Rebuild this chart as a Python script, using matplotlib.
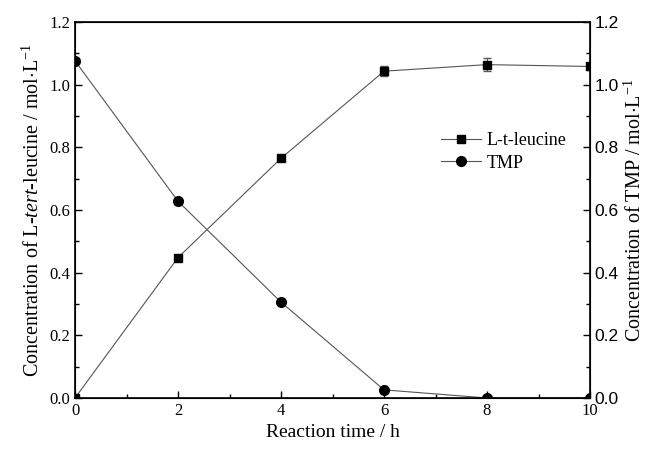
import matplotlib
matplotlib.use("Agg")
import matplotlib.pyplot as plt
from matplotlib.ticker import MultipleLocator, FormatStrFormatter
from matplotlib.lines import Line2D

time_h = [0, 2, 4, 6, 8, 10]
leucine = [0.0, 0.448, 0.765, 1.043, 1.064, 1.058]
leucine_err = [0.0, 0.006, 0.010, 0.015, 0.020, 0.012]
tmp = [1.076, 0.628, 0.306, 0.026, 0.0, 0.0]
tmp_err = [0.0, 0.006, 0.005, 0.005, 0.0, 0.0]
y_ticks = [0.0, 0.2, 0.4, 0.6, 0.8, 1.0, 1.2]

plt.rcParams['font.family'] = ['Liberation Serif', 'DejaVu Serif']
plt.rcParams['mathtext.fontset'] = 'custom'
plt.rcParams['mathtext.rm'] = 'Liberation Serif'
plt.rcParams['mathtext.it'] = 'Liberation Serif:italic'

fig = plt.figure(figsize=(6.51, 4.53), dpi=100)
ax = fig.add_axes([75/651, 55/453, 515/651, 376/453])

line_c = '#555555'
ax.errorbar(time_h, leucine, yerr=leucine_err, color=line_c, lw=0.8,
            marker='s', ms=6, mfc='black', mec='black', ecolor=line_c,
            elinewidth=0.8, capsize=3)
ax.errorbar(time_h, tmp, yerr=tmp_err, color=line_c, lw=0.8,
            marker='o', ms=7, mfc='black', mec='black', ecolor=line_c,
            elinewidth=0.8, capsize=3)

ax.set_xlim(0, 10)
ax.set_ylim(0, 1.2)
ax.xaxis.set_major_locator(MultipleLocator(2))
ax.xaxis.set_minor_locator(MultipleLocator(1))
ax.yaxis.set_major_locator(MultipleLocator(0.2))
ax.yaxis.set_minor_locator(MultipleLocator(0.1))
ax.yaxis.set_major_formatter(FormatStrFormatter('%.1f'))
ax.tick_params(which='both', direction='in', top=False, right=False, labelsize=12)
ax.tick_params(which='major', length=5, width=1)
ax.tick_params(which='minor', length=3, width=1)
for s in ax.spines.values():
    s.set_linewidth(1.2)

ax.set_xlabel('Reaction time / h', fontsize=14)
ax.set_ylabel(r'Concentration of L-$\it{tert}$-leucine / mol$\cdot$L$^{-1}$', fontsize=14.5)

ax2 = ax.twinx()
ax2.set_ylim(0, 1.2)
ax2.set_yticks(y_ticks)
ax2.set_yticklabels([f'{v:.1f}' for v in y_ticks], fontfamily='Liberation Sans', fontsize=12.5)
ax2.yaxis.set_minor_locator(MultipleLocator(0.1))
ax2.tick_params(which='both', direction='in')
ax2.tick_params(which='major', length=5, width=1)
ax2.tick_params(which='minor', length=3, width=1)
ax2.set_ylabel(r'Concentration of TMP / mol$\cdot$L$^{-1}$', fontsize=14.5)

handles = [
    Line2D([], [], color=line_c, lw=0.8, marker='s', ms=6, mfc='black', mec='black'),
    Line2D([], [], color=line_c, lw=0.8, marker='o', ms=7, mfc='black', mec='black'),
]
ax.legend(handles, ['L-t-leucine', 'TMP'], loc='upper left',
          bbox_to_anchor=(0.68, 0.75), frameon=False,
          fontsize=13, handlelength=2.2, handletextpad=0.3, labelspacing=0.3)

fig.savefig('out.png', dpi=100)
